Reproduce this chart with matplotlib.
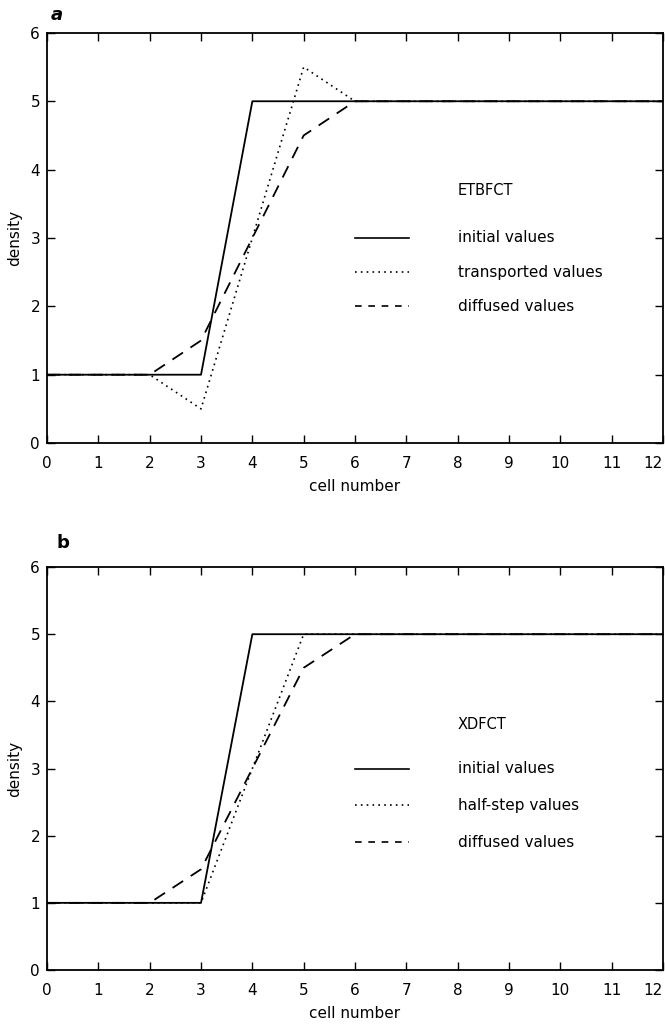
import numpy as np
import matplotlib
matplotlib.use("Agg")
import matplotlib.pyplot as plt

cells = [0, 1, 2, 3, 4, 5, 6, 7, 8, 9, 10, 11, 12]
initial = [1, 1, 1, 1, 5, 5, 5, 5, 5, 5, 5, 5, 5]
transported = [1, 1, 1, 0.5, 3.0, 5.5, 5, 5, 5, 5, 5, 5, 5]
half_step = [1, 1, 1, 1, 3.0, 5, 5, 5, 5, 5, 5, 5, 5]
diffused = [1, 1, 1, 1.5, 3.0, 4.5, 5, 5, 5, 5, 5, 5, 5]

x_ticks = list(range(0, 13))
y_ticks = list(range(0, 7))

plt.rcParams['font.family'] = ['DejaVu Sans']
plt.rcParams['font.size'] = 11

fig = plt.figure(figsize=(6.65, 10.28), dpi=100)
ax_a = fig.add_axes([0.0707, 0.569, 0.9263, 0.399])
ax_b = fig.add_axes([0.0707, 0.0564, 0.9263, 0.392])


def draw_panel(ax, second, second_label, title, leg_y):
    ax.plot(cells, initial, color='black', lw=1.3, ls='-')
    ax.plot(cells, second, color='black', lw=1.2, ls=(0, (1, 2.5)))
    ax.plot(cells, diffused, color='black', lw=1.3, ls=(0, (7, 5)))
    ax.set_xlim(0, 12)
    ax.set_ylim(0, 6)
    ax.set_xticks(x_ticks)
    ax.set_yticks(y_ticks)
    ax.tick_params(direction='in', top=True, right=True, length=6, width=1,
                   labelsize=11)
    ax.tick_params(axis='x', pad=9)
    ax.tick_params(axis='y', pad=5)
    # last x label would run off the figure edge
    ax.get_xticklabels()[-1].set_horizontalalignment('right')
    for s in ax.spines.values():
        s.set_linewidth(1.3)
    ax.set_xlabel('cell number', fontsize=11, labelpad=6)
    ax.set_ylabel('density', fontsize=11, labelpad=6)

    # hand-drawn key
    ax.text(8.0, leg_y[0], title, fontsize=10.5, va='center', ha='left')
    labels = ['initial values', second_label, 'diffused values']
    styles = ['-', (0, (1, 2.5)), (0, (4, 4))]
    for yy, lab, st in zip(leg_y[1:], labels, styles):
        ax.plot([6.0, 7.05], [yy, yy], color='black', lw=1.2, ls=st)
        ax.text(8.0, yy, lab, fontsize=11, va='center', ha='left')


draw_panel(ax_a, transported, 'transported values', 'ETBFCT',
           [3.7, 3.0, 2.5, 2.0])
draw_panel(ax_b, half_step, 'half-step values', 'XDFCT',
           [3.65, 3.0, 2.45, 1.9])

fig.text(0.086, 0.985, 'a', fontsize=13, fontweight='bold', fontstyle='italic',
         va='center', ha='center')
fig.text(0.094, 0.472, 'b', fontsize=13, fontweight='bold', va='center',
         ha='center')

fig.savefig('out.png', dpi=100)
